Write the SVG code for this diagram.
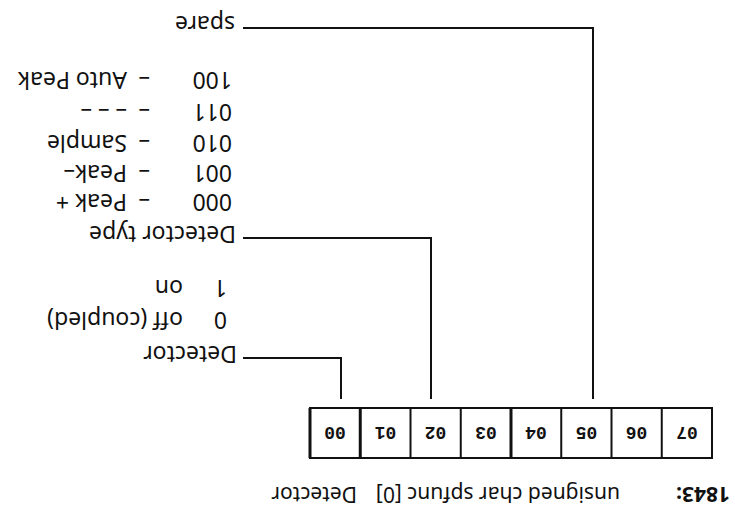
<svg xmlns="http://www.w3.org/2000/svg" width="735" height="511" viewBox="0 0 735 511">
<style>
.t{font-family:"Noto Sans","Open Sans",sans-serif;font-size:23px;fill:#111}
.s{font-size:21px}
.b{font-weight:bold}
.c{font-family:"Liberation Mono","DejaVu Sans Mono",monospace;font-size:18px;font-weight:bold;fill:#111;text-anchor:middle}
.ln{fill:none;stroke:#111;stroke-width:2}
.cell{fill:#fff;stroke:#111;stroke-width:2}
</style>
<rect width="735" height="511" fill="#fff"/>
<g transform="rotate(180 367.5 255.5)">
  <g id="title">
    <text class="t b s" x="5" y="24">1843:</text>
    <text class="t s" x="115" y="24">unsigned char spfunc [0]</text>
    <text class="t s" x="378" y="24">Detector</text>
  </g>
  <g id="register">
    <rect class="cell" x="23" y="53" width="402" height="50"/>
    <g class="ln">
      <line x1="73.25" y1="53" x2="73.25" y2="103"/>
      <line x1="123.5" y1="53" x2="123.5" y2="103"/>
      <line x1="173.75" y1="53" x2="173.75" y2="103"/>
      <line x1="224" y1="53" x2="224" y2="103" stroke-width="3"/>
      <line x1="274.25" y1="53" x2="274.25" y2="103"/>
      <line x1="324.5" y1="53" x2="324.5" y2="103"/>
      <line x1="374.75" y1="53" x2="374.75" y2="103" stroke-width="3"/>
      <line x1="425" y1="53" x2="425" y2="103" stroke-width="3"/>
    </g>
    <text class="c" x="48" y="84">07</text>
    <text class="c" x="98.5" y="84">06</text>
    <text class="c" x="148.5" y="84">05</text>
    <text class="c" x="199" y="84">04</text>
    <text class="c" x="249" y="84">03</text>
    <text class="c" x="299.5" y="84">02</text>
    <text class="c" x="349.5" y="84">01</text>
    <text class="c" x="400" y="84">00</text>
  </g>
  <g id="connectors" class="ln">
    <polyline points="394,112 394,153 492,153"/>
    <polyline points="304,112 304,273 492,273"/>
    <polyline points="142,112 142,483 492,483"/>
  </g>
  <g id="detector">
    <text class="t" x="498" y="165">Detector</text>
    <text class="t" x="508" y="199">0</text>
    <text class="t" x="552" y="199">off (coupled)</text>
    <text class="t" x="508" y="231">1</text>
    <text class="t" x="552" y="231">on</text>
  </g>
  <g id="detector-type">
    <text class="t" x="499" y="285">Detector type</text>
    <text class="t" x="503" y="317">000</text><text class="t" x="585" y="317">–</text><text class="t" x="608" y="317">Peak +</text>
    <text class="t" x="503" y="346">001</text><text class="t" x="585" y="346">–</text><text class="t" x="608" y="346">Peak–</text>
    <text class="t" x="503" y="376">010</text><text class="t" x="585" y="376">–</text><text class="t" x="608" y="376">Sample</text>
    <text class="t" x="503" y="407">011</text><text class="t" x="585" y="407">–</text><text class="t" x="608" y="407">– – –</text>
    <text class="t" x="503" y="439">100</text><text class="t" x="585" y="439">–</text><text class="t" x="608" y="439">Auto Peak</text>
  </g>
  <g id="spare">
    <text class="t" x="500" y="495">spare</text>
  </g>
</g>
</svg>
